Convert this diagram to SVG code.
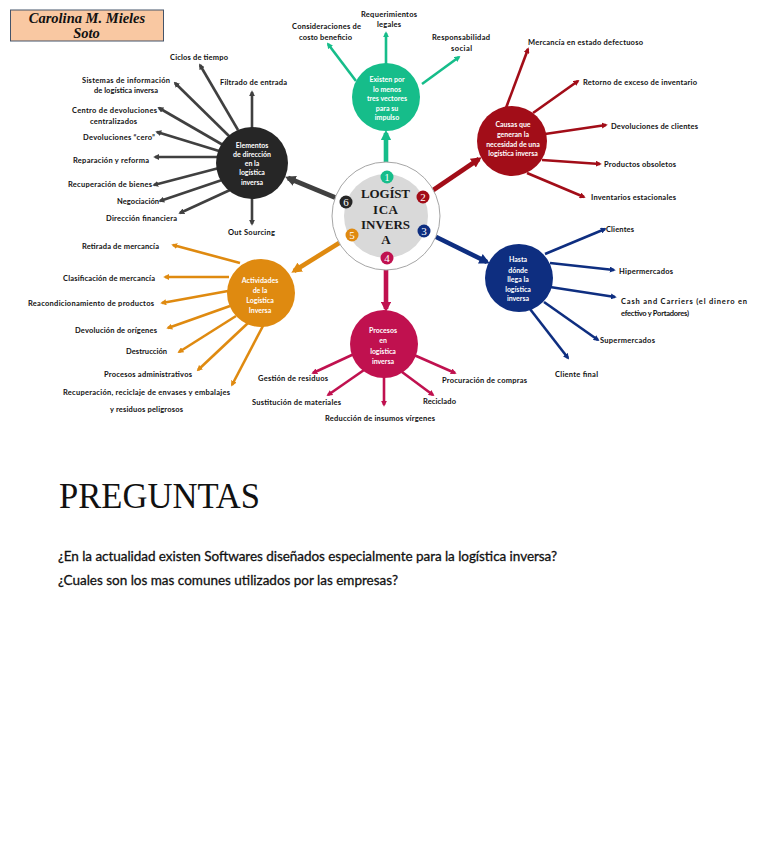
<svg xmlns="http://www.w3.org/2000/svg" width="768" height="866" viewBox="0 0 768 866">
<style>
.lbl{font-family:Lato,"Open Sans","Liberation Sans",sans-serif;font-size:7.5px;font-weight:700;fill:#111}
.ntx{font-family:Lato,"Open Sans","Liberation Sans",sans-serif;font-size:7px;font-weight:700;fill:#fff;text-anchor:middle}
.br{fill:none;stroke-width:2.6;stroke-linecap:butt}
.cn{fill:none;stroke-width:4.6}
.dk{stroke:#404040}.or{stroke:#df8a10}.mg{stroke:#c0114f}.nv{stroke:#0e2e80}.rd{stroke:#a20d18}.tl{stroke:#16bd8a}
.bdg{font-family:"Liberation Serif",serif;font-size:11px;fill:#fff;text-anchor:middle}
.q{font-family:Lato,"Open Sans","Liberation Sans",sans-serif;font-size:13.5px;fill:#111;stroke:#111;stroke-width:0.3}
</style>
<defs>
<marker id="aD" viewBox="0 0 10 10" refX="7" refY="5" markerWidth="2.3" markerHeight="2.3" orient="auto"><path d="M0,0 L10,5 L0,10 z" fill="#404040"/></marker>
<marker id="aO" viewBox="0 0 10 10" refX="7" refY="5" markerWidth="2.3" markerHeight="2.3" orient="auto"><path d="M0,0 L10,5 L0,10 z" fill="#df8a10"/></marker>
<marker id="aM" viewBox="0 0 10 10" refX="7" refY="5" markerWidth="2.3" markerHeight="2.3" orient="auto"><path d="M0,0 L10,5 L0,10 z" fill="#c0114f"/></marker>
<marker id="aN" viewBox="0 0 10 10" refX="7" refY="5" markerWidth="2.3" markerHeight="2.3" orient="auto"><path d="M0,0 L10,5 L0,10 z" fill="#0e2e80"/></marker>
<marker id="aR" viewBox="0 0 10 10" refX="7" refY="5" markerWidth="2.3" markerHeight="2.3" orient="auto"><path d="M0,0 L10,5 L0,10 z" fill="#a20d18"/></marker>
<marker id="aT" viewBox="0 0 10 10" refX="7" refY="5" markerWidth="2.3" markerHeight="2.3" orient="auto"><path d="M0,0 L10,5 L0,10 z" fill="#16bd8a"/></marker>
</defs>
<rect width="768" height="866" fill="#fff"/>

<g id="author">
<rect x="10.5" y="10" width="153" height="31" fill="#f9c8a2" stroke="#44546a" stroke-width="1"/>
<text x="87" y="22.5" font-family="'Liberation Serif',serif" font-size="14.5" font-weight="700" font-style="italic" text-anchor="middle" fill="#111">Carolina M. Mieles</text>
<text x="86.5" y="38" font-family="'Liberation Serif',serif" font-size="14.5" font-weight="700" font-style="italic" text-anchor="middle" fill="#111">Soto</text>
</g>

<g id="connectors">
<path class="br dk" marker-end="url(#aD)" d="M238,130 L200,65"/>
<path class="br dk" marker-end="url(#aD)" d="M252,130 L252,92"/>
<path class="br dk" marker-end="url(#aD)" d="M230,137 L175,83"/>
<path class="br dk" marker-end="url(#aD)" d="M223,145 L159,108"/>
<path class="br dk" marker-end="url(#aD)" d="M219,151 L157,132"/>
<path class="br dk" marker-end="url(#aD)" d="M218,157 L155,157"/>
<path class="br dk" marker-end="url(#aD)" d="M219,168 L154,185"/>
<path class="br dk" marker-end="url(#aD)" d="M222,180 L160,201"/>
<path class="br dk" marker-end="url(#aD)" d="M230,190 L180,213"/>
<path class="br dk" marker-end="url(#aD)" d="M252,196 L252,224"/>
<path class="br or" marker-end="url(#aO)" d="M240,263 L173,245"/>
<path class="br or" marker-end="url(#aO)" d="M229,277 L165,277"/>
<path class="br or" marker-end="url(#aO)" d="M228,291 L162,303"/>
<path class="br or" marker-end="url(#aO)" d="M230,306 L168,328"/>
<path class="br or" marker-end="url(#aO)" d="M236,316 L179,352"/>
<path class="br or" marker-end="url(#aO)" d="M248,323 L198,370"/>
<path class="br or" marker-end="url(#aO)" d="M264,324 L232,385"/>
<path class="br mg" marker-end="url(#aM)" d="M354,354 L313,373"/>
<path class="br mg" marker-end="url(#aM)" d="M364,370 L328,395"/>
<path class="br mg" marker-end="url(#aM)" d="M384,376 L384,405"/>
<path class="br mg" marker-end="url(#aM)" d="M402,372 L433,395"/>
<path class="br mg" marker-end="url(#aM)" d="M414,355 L455,373"/>
<path class="br nv" marker-end="url(#aN)" d="M545,254 L605,229"/>
<path class="br nv" marker-end="url(#aN)" d="M550,263 L614,270"/>
<path class="br nv" marker-end="url(#aN)" d="M550,287 L615,297"/>
<path class="br nv" marker-end="url(#aN)" d="M544,302 L598,340"/>
<path class="br nv" marker-end="url(#aN)" d="M530,309 L568,358"/>
<path class="br rd" marker-end="url(#aR)" d="M506,108 L528,49"/>
<path class="br rd" marker-end="url(#aR)" d="M533,113 L578,81"/>
<path class="br rd" marker-end="url(#aR)" d="M545,134 L606,125"/>
<path class="br rd" marker-end="url(#aR)" d="M542,160 L600,164"/>
<path class="br rd" marker-end="url(#aR)" d="M527,173 L584,197"/>
<path class="br tl" marker-end="url(#aT)" d="M356,81 L328,44"/>
<path class="br tl" marker-end="url(#aT)" d="M386,65 L386,33"/>
<path class="br tl" marker-end="url(#aT)" d="M422,84 L459,57"/>
<path class="cn tl" marker-end="url(#aT)" d="M386,172 L386,133"/>
<path class="cn rd" marker-end="url(#aR)" d="M423,197 L479,159"/>
<path class="cn nv" marker-end="url(#aN)" d="M424,231 L487,262"/>
<path class="cn mg" marker-end="url(#aM)" d="M386,258 L386,309"/>
<path class="cn or" marker-end="url(#aO)" d="M352,235 L294,271"/>
<path class="cn dk" marker-end="url(#aD)" d="M346,202 L288,178"/>
</g>

<g id="hub">
<circle cx="386" cy="216" r="54" fill="#fff" stroke="#a6a6a6" stroke-width="1"/>
<circle cx="386" cy="216" r="42" fill="#d9d9d9"/>
<g font-family="'Liberation Serif',serif" font-size="13" font-weight="700" fill="#1a1a1a" text-anchor="middle">
<text x="385.5" y="198" textLength="49" lengthAdjust="spacing">LOGÍST</text>
<text x="385.5" y="214" textLength="25" lengthAdjust="spacing">ICA</text>
<text x="385.5" y="229" textLength="49" lengthAdjust="spacing">INVERS</text>
<text x="386" y="244">A</text>
</g>
<circle cx="387" cy="177" r="6.5" fill="#16bd8a"/><text class="bdg" x="387" y="181">1</text>
<circle cx="423" cy="197" r="6.5" fill="#a20d18"/><text class="bdg" x="423" y="201">2</text>
<circle cx="424" cy="231" r="6.5" fill="#0e2e80"/><text class="bdg" x="424" y="235">3</text>
<circle cx="387" cy="258" r="6.5" fill="#c0114f"/><text class="bdg" x="387" y="262">4</text>
<circle cx="352" cy="235" r="6.5" fill="#df8a10"/><text class="bdg" x="352" y="239">5</text>
<circle cx="346" cy="202" r="6.5" fill="#262626"/><text class="bdg" x="346" y="206">6</text>
</g>

<g id="node-vectores">
<circle cx="386" cy="97" r="34" fill="#16bd8a"/>
<text class="ntx" x="387" y="82">Existen por</text>
<text class="ntx" x="387" y="92">lo menos</text>
<text class="ntx" x="387" y="101">tres vectores</text>
<text class="ntx" x="387" y="111">para su</text>
<text class="ntx" x="387" y="120">impulso</text>
</g>

<g id="node-causas">
<circle cx="512" cy="141" r="35" fill="#a20d18"/>
<text class="ntx" x="513" y="127">Causas que</text>
<text class="ntx" x="513" y="137">generan la</text>
<text class="ntx" x="513" y="147">necesidad de una</text>
<text class="ntx" x="513" y="156">logística inversa</text>
</g>

<g id="node-hasta">
<circle cx="519" cy="278" r="34" fill="#0e2e80"/>
<text class="ntx" x="518" y="262">Hasta</text>
<text class="ntx" x="518" y="273">dónde</text>
<text class="ntx" x="518" y="282">llega la</text>
<text class="ntx" x="518" y="292">logística</text>
<text class="ntx" x="518" y="301">inversa</text>
</g>

<g id="node-procesos">
<circle cx="384" cy="344" r="34" fill="#c0114f"/>
<text class="ntx" x="383" y="333">Procesos</text>
<text class="ntx" x="383" y="343">en</text>
<text class="ntx" x="383" y="354">logística</text>
<text class="ntx" x="383" y="364">inversa</text>
</g>

<g id="node-actividades">
<circle cx="261" cy="293" r="34" fill="#df8a10"/>
<text class="ntx" x="260" y="283">Actividades</text>
<text class="ntx" x="260" y="293">de la</text>
<text class="ntx" x="260" y="303">Logística</text>
<text class="ntx" x="260" y="313">Inversa</text>
</g>

<g id="node-elementos">
<circle cx="252" cy="163" r="36" fill="#262626"/>
<text class="ntx" x="252" y="148">Elementos</text>
<text class="ntx" x="252" y="157">de dirección</text>
<text class="ntx" x="252" y="166">en la</text>
<text class="ntx" x="252" y="175">logística</text>
<text class="ntx" x="252" y="185">inversa</text>
</g>

<g id="labels-elementos">
<g id="l-ciclos"><text class="lbl" x="170" y="60" textLength="58" lengthAdjust="spacing">Ciclos de tiempo</text></g>
<g id="l-filtrado"><text class="lbl" x="220" y="85" textLength="67" lengthAdjust="spacing">Filtrado de entrada</text></g>
<g id="l-sistemas"><text class="lbl" x="82" y="83" textLength="88" lengthAdjust="spacing">Sistemas de información</text><text class="lbl" x="94" y="93" textLength="64" lengthAdjust="spacing">de logística inversa</text></g>
<g id="l-centro"><text class="lbl" x="72" y="113" textLength="85" lengthAdjust="spacing">Centro de devoluciones</text><text class="lbl" x="90" y="124" textLength="47" lengthAdjust="spacing">centralizados</text></g>
<g id="l-cero"><text class="lbl" x="83" y="140" textLength="72" lengthAdjust="spacing">Devoluciones “cero”</text></g>
<g id="l-reparacion"><text class="lbl" x="73" y="163" textLength="76" lengthAdjust="spacing">Reparación y reforma</text></g>
<g id="l-recbienes"><text class="lbl" x="68" y="187" textLength="84" lengthAdjust="spacing">Recuperación de bienes</text></g>
<g id="l-negociacion"><text class="lbl" x="117" y="204" textLength="42" lengthAdjust="spacing">Negociación</text></g>
<g id="l-direccion"><text class="lbl" x="106" y="221" textLength="71" lengthAdjust="spacing">Dirección financiera</text></g>
<g id="l-outsourcing"><text class="lbl" x="228" y="235" textLength="47" lengthAdjust="spacing">Out Sourcing</text></g>
</g>

<g id="labels-actividades">
<g id="l-retirada"><text class="lbl" x="82" y="249" textLength="77" lengthAdjust="spacing">Retirada de mercancía</text></g>
<g id="l-clasificacion"><text class="lbl" x="63" y="281" textLength="92" lengthAdjust="spacing">Clasificación de mercancía</text></g>
<g id="l-reacond"><text class="lbl" x="28" y="306" textLength="126" lengthAdjust="spacing">Reacondicionamiento de productos</text></g>
<g id="l-devorig"><text class="lbl" x="75" y="333" textLength="82" lengthAdjust="spacing">Devolución de orígenes</text></g>
<g id="l-destruccion"><text class="lbl" x="126" y="354" textLength="41" lengthAdjust="spacing">Destrucción</text></g>
<g id="l-procadm"><text class="lbl" x="104" y="377" textLength="88" lengthAdjust="spacing">Procesos administrativos</text></g>
<g id="l-recenv"><text class="lbl" x="63" y="395" textLength="167" lengthAdjust="spacing">Recuperación, reciclaje de envases y embalajes</text><text class="lbl" x="110" y="412" textLength="73" lengthAdjust="spacing">y residuos peligrosos</text></g>
</g>

<g id="labels-procesos">
<g id="l-gestion"><text class="lbl" x="258" y="381" textLength="70" lengthAdjust="spacing">Gestión de residuos</text></g>
<g id="l-sustitucion"><text class="lbl" x="252" y="405" textLength="89" lengthAdjust="spacing">Sustitución de materiales</text></g>
<g id="l-reduccion"><text class="lbl" x="325" y="421" textLength="110" lengthAdjust="spacing">Reducción de insumos vírgenes</text></g>
<g id="l-reciclado"><text class="lbl" x="423" y="404" textLength="33" lengthAdjust="spacing">Reciclado</text></g>
<g id="l-procuracion"><text class="lbl" x="442" y="383" textLength="85" lengthAdjust="spacing">Procuración de compras</text></g>
</g>

<g id="labels-causas">
<g id="l-mercancia"><text class="lbl" x="528" y="45" textLength="115" lengthAdjust="spacing">Mercancía en estado defectuoso</text></g>
<g id="l-retorno"><text class="lbl" x="583" y="85" textLength="114" lengthAdjust="spacing">Retorno de exceso de inventario</text></g>
<g id="l-devcli"><text class="lbl" x="611" y="129" textLength="87" lengthAdjust="spacing">Devoluciones de clientes</text></g>
<g id="l-obsoletos"><text class="lbl" x="604" y="167" textLength="72" lengthAdjust="spacing">Productos obsoletos</text></g>
<g id="l-inventarios"><text class="lbl" x="591" y="200" textLength="85" lengthAdjust="spacing">Inventarios estacionales</text></g>
</g>

<g id="labels-hasta">
<g id="l-clientes"><text class="lbl" x="606" y="232" textLength="28" lengthAdjust="spacing">Clientes</text></g>
<g id="l-hiper"><text class="lbl" x="619" y="274" textLength="54" lengthAdjust="spacing">Hipermercados</text></g>
<g id="l-cash"><text class="lbl" x="621" y="304" textLength="126" lengthAdjust="spacing">Cash and Carriers (el dinero en</text><text class="lbl" x="621" y="316" textLength="68" lengthAdjust="spacing">efectivo y Portadores)</text></g>
<g id="l-super"><text class="lbl" x="600" y="343" textLength="55" lengthAdjust="spacing">Supermercados</text></g>
<g id="l-clientefinal"><text class="lbl" x="555" y="377" textLength="43" lengthAdjust="spacing">Cliente final</text></g>
</g>

<g id="labels-vectores">
<g id="l-costo"><text class="lbl" x="292" y="29" textLength="69" lengthAdjust="spacing">Consideraciones de</text><text class="lbl" x="299" y="40" textLength="53" lengthAdjust="spacing">costo beneficio</text></g>
<g id="l-legales"><text class="lbl" x="361" y="17" textLength="56" lengthAdjust="spacing">Requerimientos</text><text class="lbl" x="377" y="27" textLength="24" lengthAdjust="spacing">legales</text></g>
<g id="l-social"><text class="lbl" x="432" y="40" textLength="58" lengthAdjust="spacing">Responsabilidad</text><text class="lbl" x="451" y="51" textLength="21" lengthAdjust="spacing">social</text></g>
</g>

<g id="preguntas">
<text x="59" y="508" font-family="'Liberation Serif',serif" font-size="35" fill="#111" textLength="201" lengthAdjust="spacingAndGlyphs">PREGUNTAS</text>
<text class="q" x="58" y="561" textLength="499" lengthAdjust="spacing">¿En la actualidad existen Softwares diseñados especialmente para la logística inversa?</text>
<text class="q" x="58" y="585" textLength="340" lengthAdjust="spacing">¿Cuales son los mas comunes utilizados por las empresas?</text>
</g>
</svg>
